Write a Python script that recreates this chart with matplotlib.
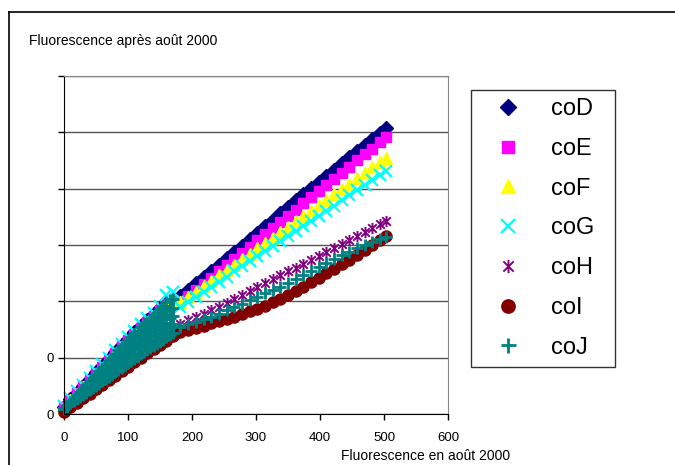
import matplotlib
matplotlib.use("Agg")
import matplotlib.pyplot as plt
import numpy as np
from matplotlib.lines import Line2D
from matplotlib.path import Path

plt.rcParams['font.family'] = ['Liberation Sans', 'DejaVu Sans']

# shared x (Fluorescence en août 2000)
X = [0, 10, 20, 30, 40, 50, 60, 70, 80, 90, 100, 110, 120, 130, 140, 150, 160, 170,
     182, 194, 206, 218, 230, 242, 254, 266, 278, 290, 302, 314, 326, 338, 350, 362,
     374, 386, 398, 410, 422, 434, 446, 458, 470, 482, 494, 503]

coD = [.13, .26, .38, .50, .62, .74, .86, .98, 1.10, 1.22, 1.34, 1.45, 1.56, 1.67, 1.77, 1.88, 1.98, 2.05,
       2.10, 2.21, 2.32, 2.43, 2.54, 2.65, 2.77, 2.88, 2.99, 3.10, 3.22, 3.33, 3.45, 3.57, 3.68, 3.79,
       3.90, 4.01, 4.12, 4.23, 4.34, 4.45, 4.56, 4.67, 4.78, 4.89, 4.99, 5.08]
coE = [.12, .25, .37, .49, .61, .72, .84, .96, 1.08, 1.20, 1.31, 1.42, 1.53, 1.64, 1.74, 1.85, 1.95, 2.02,
       2.00, 2.10, 2.20, 2.31, 2.42, 2.53, 2.64, 2.75, 2.86, 2.97, 3.08, 3.19, 3.30, 3.41, 3.52, 3.63,
       3.74, 3.85, 3.96, 4.06, 4.17, 4.28, 4.39, 4.50, 4.61, 4.71, 4.82, 4.92]
coF = [.11, .24, .36, .48, .59, .71, .82, .94, 1.06, 1.18, 1.29, 1.40, 1.51, 1.62, 1.72, 1.83, 1.93, 2.00,
       1.98, 2.08, 2.17, 2.27, 2.36, 2.46, 2.56, 2.65, 2.75, 2.84, 2.94, 3.04, 3.13, 3.23, 3.32, 3.42,
       3.52, 3.61, 3.71, 3.80, 3.90, 4.00, 4.09, 4.19, 4.28, 4.38, 4.48, 4.55]
coG = [.15, .28, .40, .52, .64, .76, .88, 1.00, 1.13, 1.25, 1.37, 1.48, 1.60, 1.70, 1.80, 1.92, 2.12, 2.17,
       1.90, 1.99, 2.08, 2.17, 2.26, 2.35, 2.44, 2.53, 2.62, 2.71, 2.80, 2.89, 2.98, 3.07, 3.16, 3.25,
       3.34, 3.43, 3.52, 3.61, 3.70, 3.79, 3.88, 3.97, 4.06, 4.15, 4.24, 4.31]
coH = [.06, .14, .22, .30, .38, .46, .54, .62, .70, .78, .86, .94, 1.02, 1.10, 1.17, 1.24, 1.32, 1.40,
       1.60, 1.66, 1.72, 1.78, 1.84, 1.90, 1.97, 2.04, 2.11, 2.18, 2.25, 2.32, 2.39, 2.46, 2.53, 2.60,
       2.67, 2.74, 2.81, 2.88, 2.95, 3.02, 3.09, 3.16, 3.23, 3.30, 3.37, 3.42]
coI = [.04, .12, .20, .28, .36, .44, .52, .60, .68, .76, .84, .92, 1.00, 1.08, 1.15, 1.22, 1.30, 1.38,
       1.45, 1.49, 1.53, 1.57, 1.61, 1.65, 1.69, 1.73, 1.77, 1.82, 1.87, 1.92, 1.98, 2.04, 2.11, 2.18,
       2.26, 2.34, 2.42, 2.50, 2.58, 2.66, 2.74, 2.82, 2.91, 3.00, 3.09, 3.16]

# coJ below 175: dense cloud, five readings per x
coJ_cloud_x = [0, 5, 10, 15, 20, 25, 30, 35, 40, 45, 50, 55, 60, 65, 70, 75, 80, 85, 90, 95,
               100, 105, 110, 115, 120, 125, 130, 135, 140, 145, 150, 155, 160, 165, 170]
coJ_t1 = [.09, .14, .19, .23, .27, .31, .34, .38, .42, .46, .50, .54, .58, .62, .66, .70, .74, .78, .82, .86,
          .90, .94, .98, 1.02, 1.06, 1.10, 1.14, 1.17, 1.21, 1.24, 1.28, 1.32, 1.36, 1.40, 1.44]
coJ_t2 = [.10, .15, .20, .24, .29, .33, .37, .42, .46, .51, .55, .60, .64, .69, .73, .78, .82, .87, .91, .96,
          1.00, 1.05, 1.09, 1.14, 1.18, 1.22, 1.27, 1.30, 1.34, 1.38, 1.43, 1.47, 1.52, 1.56, 1.59]
coJ_t3 = [.10, .15, .20, .25, .30, .35, .40, .45, .50, .55, .60, .65, .70, .75, .80, .85, .91, .96, 1.01, 1.06,
          1.11, 1.16, 1.20, 1.25, 1.30, 1.35, 1.39, 1.43, 1.48, 1.52, 1.57, 1.62, 1.68, 1.71, 1.74]
coJ_t4 = [.10, .16, .21, .26, .32, .37, .43, .49, .54, .60, .65, .71, .76, .82, .87, .93, .99, 1.04, 1.10, 1.15,
          1.21, 1.26, 1.31, 1.37, 1.42, 1.47, 1.52, 1.56, 1.61, 1.66, 1.72, 1.77, 1.83, 1.87, 1.89]
coJ_t5 = [.11, .15, .21, .27, .33, .39, .46, .52, .58, .64, .70, .76, .82, .88, .94, 1.00, 1.07, 1.13, 1.19, 1.25,
          1.31, 1.37, 1.42, 1.48, 1.54, 1.59, 1.64, 1.69, 1.74, 1.80, 1.86, 1.92, 1.99, 2.02, 2.04]
# coJ above 175: one reading per x
coJ_x_high = [182, 194, 206, 218, 230, 242, 254, 266, 278, 290, 302, 314, 326, 338, 350, 362,
              374, 386, 398, 410, 422, 434, 446, 458, 470, 482, 494, 503]
coJ_y_high = [1.55, 1.59, 1.63, 1.68, 1.73, 1.78, 1.84, 1.90, 1.96, 2.02, 2.08, 2.14, 2.20, 2.26, 2.33, 2.40,
              2.47, 2.54, 2.61, 2.68, 2.75, 2.82, 2.88, 2.94, 3.00, 3.06, 3.11, 3.15]

x_ticks = [0, 100, 200, 300, 400, 500, 600]
y_ticks = [0, 1, 2, 3, 4, 5, 6]
y_ticklabels = ['0', '0', '', '', '', '', '']

coJ_x = np.concatenate([np.tile(coJ_cloud_x, 5), coJ_x_high])
coJ_y = np.concatenate([coJ_t1, coJ_t2, coJ_t3, coJ_t4, coJ_t5, coJ_y_high])

# excel-like asterisk marker (x with a vertical bar)
star = Path([(-1, -1), (1, 1), (-1, 1), (1, -1), (0, -1.3), (0, 1.3)],
            [Path.MOVETO, Path.LINETO, Path.MOVETO, Path.LINETO, Path.MOVETO, Path.LINETO])

series = [
    ("coD", X, coD, dict(marker='D', color='#000080', ms=7)),
    ("coE", X, coE, dict(marker='s', color='#FF00FF', ms=7.5)),
    ("coF", X, coF, dict(marker='^', color='#FFFF00', ms=8.5)),
    ("coG", X, coG, dict(marker='x', color='#00FFFF', ms=8, mew=1.6)),
    ("coH", X, coH, dict(marker=star, color='#800080', ms=8, mew=1.4)),
    ("coI", X, coI, dict(marker='o', color='#800000', ms=8)),
    ("coJ", coJ_x, coJ_y, dict(marker='+', color='#008080', ms=9, mew=2)),
]

fig = plt.figure(figsize=(6.75, 4.65), dpi=100)
ax = fig.add_axes([64/675, 1 - 414/465, 384/675, 338/465])

handles = []
for name, xs, ys, st in series:
    ln, = ax.plot(xs, ys, linestyle='none', label=name, clip_on=False, **st)
    handles.append(ln)

ax.set_xlim(0, 600)
ax.set_ylim(0, 6)
ax.set_xticks(x_ticks)
ax.set_yticks(y_ticks)
ax.set_yticklabels(y_ticklabels)
ax.tick_params(axis='both', direction='out', length=4, width=1, labelsize=9.5, colors='black', pad=3)
ax.tick_params(axis='x', pad=9)
ax.yaxis.grid(True, color='#555555', lw=1)
ax.set_axisbelow(True)
for s in ['left', 'bottom']:
    ax.spines[s].set_color('black')
for s in ['right', 'top']:
    ax.spines[s].set_color('#888888')

fig.text(29/675, 1 - 41/465, "Fluorescence après août 2000", fontsize=10, va='center', ha='left')
fig.text(426/675, 1 - 456/465, "Fluorescence en août 2000", fontsize=10, va='center', ha='center')

# legend box stretched to the reference width
leg = fig.legend(handles=handles, loc='upper left',
                 bbox_to_anchor=(471/675, 1 - 370/465, 144/675, 280/465), mode='expand',
                 borderaxespad=0, fontsize=17, frameon=True, fancybox=False, edgecolor='black',
                 borderpad=0.35, labelspacing=0.75, handlelength=2.45, handletextpad=0.6,
                 markerscale=1.2)
leg.get_frame().set_linewidth(1)

# outer chart border
fig.add_artist(Line2D([9/675, 9/675], [0, 1 - 12/465], color='black', lw=1.2))
fig.add_artist(Line2D([9/675, 1], [1 - 12/465, 1 - 12/465], color='black', lw=1.2))

fig.savefig("out.png", dpi=100)
